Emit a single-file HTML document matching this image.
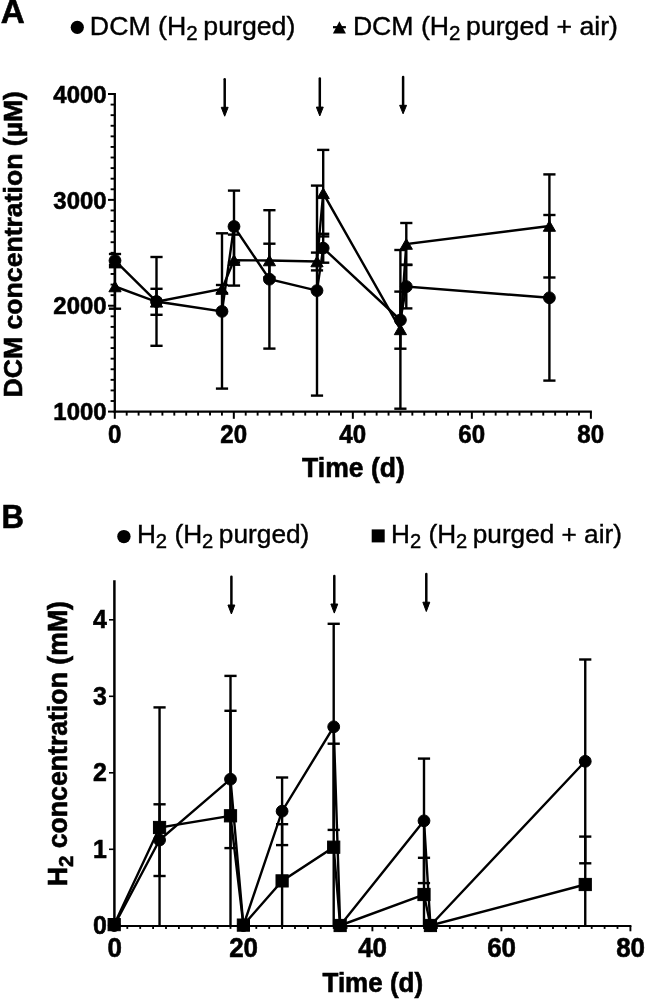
<!DOCTYPE html>
<html><head><meta charset="utf-8"><style>
html,body{margin:0;padding:0;background:#fff;}
body{width:645px;height:999px;overflow:hidden;}
svg{display:block;filter:grayscale(1);}
</style></head><body>
<svg width="645" height="999" viewBox="0 0 645 999">
<rect width="645" height="999" fill="#fff"/>
<g stroke="#000" fill="#000">
<line x1="114.80" y1="92.90" x2="114.80" y2="412.70" stroke-width="2.3" />
<line x1="113.70" y1="411.60" x2="591.88" y2="411.60" stroke-width="2.3" />
<line x1="108.00" y1="411.60" x2="114.80" y2="411.60" stroke-width="2.0" />
<line x1="110.60" y1="401.01" x2="114.80" y2="401.01" stroke-width="1.9" />
<line x1="110.60" y1="390.43" x2="114.80" y2="390.43" stroke-width="1.9" />
<line x1="110.60" y1="379.84" x2="114.80" y2="379.84" stroke-width="1.9" />
<line x1="110.60" y1="369.25" x2="114.80" y2="369.25" stroke-width="1.9" />
<line x1="110.60" y1="358.67" x2="114.80" y2="358.67" stroke-width="1.9" />
<line x1="110.60" y1="348.08" x2="114.80" y2="348.08" stroke-width="1.9" />
<line x1="110.60" y1="337.49" x2="114.80" y2="337.49" stroke-width="1.9" />
<line x1="110.60" y1="326.91" x2="114.80" y2="326.91" stroke-width="1.9" />
<line x1="110.60" y1="316.32" x2="114.80" y2="316.32" stroke-width="1.9" />
<line x1="108.00" y1="305.73" x2="114.80" y2="305.73" stroke-width="2.0" />
<line x1="110.60" y1="295.15" x2="114.80" y2="295.15" stroke-width="1.9" />
<line x1="110.60" y1="284.56" x2="114.80" y2="284.56" stroke-width="1.9" />
<line x1="110.60" y1="273.97" x2="114.80" y2="273.97" stroke-width="1.9" />
<line x1="110.60" y1="263.39" x2="114.80" y2="263.39" stroke-width="1.9" />
<line x1="110.60" y1="252.80" x2="114.80" y2="252.80" stroke-width="1.9" />
<line x1="110.60" y1="242.21" x2="114.80" y2="242.21" stroke-width="1.9" />
<line x1="110.60" y1="231.63" x2="114.80" y2="231.63" stroke-width="1.9" />
<line x1="110.60" y1="221.04" x2="114.80" y2="221.04" stroke-width="1.9" />
<line x1="110.60" y1="210.45" x2="114.80" y2="210.45" stroke-width="1.9" />
<line x1="108.00" y1="199.87" x2="114.80" y2="199.87" stroke-width="2.0" />
<line x1="110.60" y1="189.28" x2="114.80" y2="189.28" stroke-width="1.9" />
<line x1="110.60" y1="178.69" x2="114.80" y2="178.69" stroke-width="1.9" />
<line x1="110.60" y1="168.11" x2="114.80" y2="168.11" stroke-width="1.9" />
<line x1="110.60" y1="157.52" x2="114.80" y2="157.52" stroke-width="1.9" />
<line x1="110.60" y1="146.93" x2="114.80" y2="146.93" stroke-width="1.9" />
<line x1="110.60" y1="136.35" x2="114.80" y2="136.35" stroke-width="1.9" />
<line x1="110.60" y1="125.76" x2="114.80" y2="125.76" stroke-width="1.9" />
<line x1="110.60" y1="115.17" x2="114.80" y2="115.17" stroke-width="1.9" />
<line x1="110.60" y1="104.59" x2="114.80" y2="104.59" stroke-width="1.9" />
<line x1="108.00" y1="94.00" x2="114.80" y2="94.00" stroke-width="2.0" />
<line x1="114.80" y1="411.60" x2="114.80" y2="418.80" stroke-width="2.0" />
<line x1="126.70" y1="411.60" x2="126.70" y2="415.60" stroke-width="1.9" />
<line x1="138.60" y1="411.60" x2="138.60" y2="415.60" stroke-width="1.9" />
<line x1="150.51" y1="411.60" x2="150.51" y2="415.60" stroke-width="1.9" />
<line x1="162.41" y1="411.60" x2="162.41" y2="415.60" stroke-width="1.9" />
<line x1="174.31" y1="411.60" x2="174.31" y2="415.60" stroke-width="1.9" />
<line x1="186.21" y1="411.60" x2="186.21" y2="415.60" stroke-width="1.9" />
<line x1="198.11" y1="411.60" x2="198.11" y2="415.60" stroke-width="1.9" />
<line x1="210.02" y1="411.60" x2="210.02" y2="415.60" stroke-width="1.9" />
<line x1="221.92" y1="411.60" x2="221.92" y2="415.60" stroke-width="1.9" />
<line x1="233.82" y1="411.60" x2="233.82" y2="418.80" stroke-width="2.0" />
<line x1="245.72" y1="411.60" x2="245.72" y2="415.60" stroke-width="1.9" />
<line x1="257.62" y1="411.60" x2="257.62" y2="415.60" stroke-width="1.9" />
<line x1="269.53" y1="411.60" x2="269.53" y2="415.60" stroke-width="1.9" />
<line x1="281.43" y1="411.60" x2="281.43" y2="415.60" stroke-width="1.9" />
<line x1="293.33" y1="411.60" x2="293.33" y2="415.60" stroke-width="1.9" />
<line x1="305.23" y1="411.60" x2="305.23" y2="415.60" stroke-width="1.9" />
<line x1="317.13" y1="411.60" x2="317.13" y2="415.60" stroke-width="1.9" />
<line x1="329.04" y1="411.60" x2="329.04" y2="415.60" stroke-width="1.9" />
<line x1="340.94" y1="411.60" x2="340.94" y2="415.60" stroke-width="1.9" />
<line x1="352.84" y1="411.60" x2="352.84" y2="418.80" stroke-width="2.0" />
<line x1="364.74" y1="411.60" x2="364.74" y2="415.60" stroke-width="1.9" />
<line x1="376.64" y1="411.60" x2="376.64" y2="415.60" stroke-width="1.9" />
<line x1="388.55" y1="411.60" x2="388.55" y2="415.60" stroke-width="1.9" />
<line x1="400.45" y1="411.60" x2="400.45" y2="415.60" stroke-width="1.9" />
<line x1="412.35" y1="411.60" x2="412.35" y2="415.60" stroke-width="1.9" />
<line x1="424.25" y1="411.60" x2="424.25" y2="415.60" stroke-width="1.9" />
<line x1="436.15" y1="411.60" x2="436.15" y2="415.60" stroke-width="1.9" />
<line x1="448.06" y1="411.60" x2="448.06" y2="415.60" stroke-width="1.9" />
<line x1="459.96" y1="411.60" x2="459.96" y2="415.60" stroke-width="1.9" />
<line x1="471.86" y1="411.60" x2="471.86" y2="418.80" stroke-width="2.0" />
<line x1="483.76" y1="411.60" x2="483.76" y2="415.60" stroke-width="1.9" />
<line x1="495.66" y1="411.60" x2="495.66" y2="415.60" stroke-width="1.9" />
<line x1="507.57" y1="411.60" x2="507.57" y2="415.60" stroke-width="1.9" />
<line x1="519.47" y1="411.60" x2="519.47" y2="415.60" stroke-width="1.9" />
<line x1="531.37" y1="411.60" x2="531.37" y2="415.60" stroke-width="1.9" />
<line x1="543.27" y1="411.60" x2="543.27" y2="415.60" stroke-width="1.9" />
<line x1="555.17" y1="411.60" x2="555.17" y2="415.60" stroke-width="1.9" />
<line x1="567.08" y1="411.60" x2="567.08" y2="415.60" stroke-width="1.9" />
<line x1="578.98" y1="411.60" x2="578.98" y2="415.60" stroke-width="1.9" />
<line x1="590.88" y1="411.60" x2="590.88" y2="418.80" stroke-width="2.0" />
</g>
<g stroke="#000" fill="#000" stroke-linecap="butt">
<line x1="115.00" y1="254.00" x2="115.00" y2="267.20" stroke-width="2.4" />
<line x1="108.90" y1="254.00" x2="121.10" y2="254.00" stroke-width="2.4" />
<line x1="108.90" y1="267.20" x2="121.10" y2="267.20" stroke-width="2.4" />
<line x1="156.50" y1="257.00" x2="156.50" y2="345.80" stroke-width="2.4" />
<line x1="150.40" y1="257.00" x2="162.60" y2="257.00" stroke-width="2.4" />
<line x1="150.40" y1="345.80" x2="162.60" y2="345.80" stroke-width="2.4" />
<line x1="222.00" y1="233.30" x2="222.00" y2="388.60" stroke-width="2.4" />
<line x1="215.90" y1="233.30" x2="228.10" y2="233.30" stroke-width="2.4" />
<line x1="215.90" y1="388.60" x2="228.10" y2="388.60" stroke-width="2.4" />
<line x1="234.00" y1="190.60" x2="234.00" y2="262.40" stroke-width="2.4" />
<line x1="227.90" y1="190.60" x2="240.10" y2="190.60" stroke-width="2.4" />
<line x1="227.90" y1="262.40" x2="240.10" y2="262.40" stroke-width="2.4" />
<line x1="269.40" y1="210.20" x2="269.40" y2="348.60" stroke-width="2.4" />
<line x1="263.30" y1="210.20" x2="275.50" y2="210.20" stroke-width="2.4" />
<line x1="263.30" y1="348.60" x2="275.50" y2="348.60" stroke-width="2.4" />
<line x1="317.00" y1="185.60" x2="317.00" y2="395.60" stroke-width="2.4" />
<line x1="310.90" y1="185.60" x2="323.10" y2="185.60" stroke-width="2.4" />
<line x1="310.90" y1="395.60" x2="323.10" y2="395.60" stroke-width="2.4" />
<line x1="323.20" y1="233.80" x2="323.20" y2="262.70" stroke-width="2.4" />
<line x1="317.10" y1="233.80" x2="329.30" y2="233.80" stroke-width="2.4" />
<line x1="317.10" y1="262.70" x2="329.30" y2="262.70" stroke-width="2.4" />
<line x1="400.40" y1="291.60" x2="400.40" y2="348.70" stroke-width="2.4" />
<line x1="394.30" y1="291.60" x2="406.50" y2="291.60" stroke-width="2.4" />
<line x1="394.30" y1="348.70" x2="406.50" y2="348.70" stroke-width="2.4" />
<line x1="406.30" y1="264.70" x2="406.30" y2="308.40" stroke-width="2.4" />
<line x1="400.20" y1="264.70" x2="412.40" y2="264.70" stroke-width="2.4" />
<line x1="400.20" y1="308.40" x2="412.40" y2="308.40" stroke-width="2.4" />
<line x1="549.40" y1="215.00" x2="549.40" y2="380.60" stroke-width="2.4" />
<line x1="543.30" y1="215.00" x2="555.50" y2="215.00" stroke-width="2.4" />
<line x1="543.30" y1="380.60" x2="555.50" y2="380.60" stroke-width="2.4" />
<line x1="115.00" y1="265.00" x2="115.00" y2="308.70" stroke-width="2.4" />
<line x1="108.90" y1="265.00" x2="121.10" y2="265.00" stroke-width="2.4" />
<line x1="108.90" y1="308.70" x2="121.10" y2="308.70" stroke-width="2.4" />
<line x1="156.50" y1="288.80" x2="156.50" y2="314.80" stroke-width="2.4" />
<line x1="150.40" y1="288.80" x2="162.60" y2="288.80" stroke-width="2.4" />
<line x1="150.40" y1="314.80" x2="162.60" y2="314.80" stroke-width="2.4" />
<line x1="222.00" y1="285.00" x2="222.00" y2="293.00" stroke-width="2.4" />
<line x1="215.90" y1="285.00" x2="228.10" y2="285.00" stroke-width="2.4" />
<line x1="215.90" y1="293.00" x2="228.10" y2="293.00" stroke-width="2.4" />
<line x1="234.00" y1="234.60" x2="234.00" y2="285.60" stroke-width="2.4" />
<line x1="227.90" y1="234.60" x2="240.10" y2="234.60" stroke-width="2.4" />
<line x1="227.90" y1="285.60" x2="240.10" y2="285.60" stroke-width="2.4" />
<line x1="269.40" y1="243.70" x2="269.40" y2="277.30" stroke-width="2.4" />
<line x1="263.30" y1="243.70" x2="275.50" y2="243.70" stroke-width="2.4" />
<line x1="263.30" y1="277.30" x2="275.50" y2="277.30" stroke-width="2.4" />
<line x1="317.00" y1="252.60" x2="317.00" y2="270.40" stroke-width="2.4" />
<line x1="310.90" y1="252.60" x2="323.10" y2="252.60" stroke-width="2.4" />
<line x1="310.90" y1="270.40" x2="323.10" y2="270.40" stroke-width="2.4" />
<line x1="323.20" y1="149.90" x2="323.20" y2="236.40" stroke-width="2.4" />
<line x1="317.10" y1="149.90" x2="329.30" y2="149.90" stroke-width="2.4" />
<line x1="317.10" y1="236.40" x2="329.30" y2="236.40" stroke-width="2.4" />
<line x1="400.40" y1="250.00" x2="400.40" y2="408.70" stroke-width="2.4" />
<line x1="394.30" y1="250.00" x2="406.50" y2="250.00" stroke-width="2.4" />
<line x1="394.30" y1="408.70" x2="406.50" y2="408.70" stroke-width="2.4" />
<line x1="406.30" y1="223.00" x2="406.30" y2="265.00" stroke-width="2.4" />
<line x1="400.20" y1="223.00" x2="412.40" y2="223.00" stroke-width="2.4" />
<line x1="400.20" y1="265.00" x2="412.40" y2="265.00" stroke-width="2.4" />
<line x1="549.40" y1="174.40" x2="549.40" y2="277.50" stroke-width="2.4" />
<line x1="543.30" y1="174.40" x2="555.50" y2="174.40" stroke-width="2.4" />
<line x1="543.30" y1="277.50" x2="555.50" y2="277.50" stroke-width="2.4" />
<polyline points="115.00,260.60 156.50,301.50 222.00,311.40 234.00,226.50 269.40,279.20 317.00,290.60 323.20,248.10 400.40,320.00 406.30,286.60 549.40,297.80" fill="none" stroke-width="2.4" stroke-linejoin="miter"/>
<polyline points="115.00,286.50 156.50,301.80 222.00,289.00 234.00,260.10 269.40,260.50 317.00,261.50 323.20,193.30 400.40,329.40 406.30,244.00 549.40,226.00" fill="none" stroke-width="2.4" stroke-linejoin="miter"/>
<circle cx="115.00" cy="260.60" r="5.90"/>
<circle cx="156.50" cy="301.50" r="5.90"/>
<circle cx="222.00" cy="311.40" r="5.90"/>
<circle cx="234.00" cy="226.50" r="5.90"/>
<circle cx="269.40" cy="279.20" r="5.90"/>
<circle cx="317.00" cy="290.60" r="5.90"/>
<circle cx="323.20" cy="248.10" r="5.90"/>
<circle cx="400.40" cy="320.00" r="5.90"/>
<circle cx="406.30" cy="286.60" r="5.90"/>
<circle cx="549.40" cy="297.80" r="5.90"/>
<polygon points="115.00,281.22 121.10,291.78 108.90,291.78"/>
<polygon points="156.50,296.52 162.60,307.08 150.40,307.08"/>
<polygon points="222.00,283.72 228.10,294.28 215.90,294.28"/>
<polygon points="234.00,254.82 240.10,265.38 227.90,265.38"/>
<polygon points="269.40,255.22 275.50,265.78 263.30,265.78"/>
<polygon points="317.00,256.22 323.10,266.78 310.90,266.78"/>
<polygon points="323.20,188.02 329.30,198.58 317.10,198.58"/>
<polygon points="400.40,324.12 406.50,334.68 394.30,334.68"/>
<polygon points="406.30,238.72 412.40,249.28 400.20,249.28"/>
<polygon points="549.40,220.72 555.50,231.28 543.30,231.28"/>
<line x1="224.70" y1="79.30" x2="224.70" y2="108.30" stroke-width="2.5" stroke-linecap="round"/>
<polygon points="221.25,107.30 228.15,107.30 224.70,116.20"/>
<line x1="319.80" y1="78.60" x2="319.80" y2="108.10" stroke-width="2.5" stroke-linecap="round"/>
<polygon points="316.35,107.10 323.25,107.10 319.80,115.90"/>
<line x1="403.10" y1="77.10" x2="403.10" y2="106.30" stroke-width="2.5" stroke-linecap="round"/>
<polygon points="399.65,105.30 406.55,105.30 403.10,113.80"/>
</g>
<g stroke="#000" fill="#000">
<line x1="114.40" y1="580.30" x2="114.40" y2="927.00" stroke-width="2.5" />
<line x1="113.40" y1="926.00" x2="631.40" y2="926.00" stroke-width="2.0" />
<line x1="109.00" y1="925.80" x2="114.40" y2="925.80" stroke-width="1.6" />
<line x1="109.00" y1="849.30" x2="114.40" y2="849.30" stroke-width="1.6" />
<line x1="109.00" y1="772.80" x2="114.40" y2="772.80" stroke-width="1.6" />
<line x1="109.00" y1="696.30" x2="114.40" y2="696.30" stroke-width="1.6" />
<line x1="109.00" y1="619.80" x2="114.40" y2="619.80" stroke-width="1.6" />
<line x1="114.40" y1="926.00" x2="114.40" y2="931.30" stroke-width="1.9" />
<line x1="127.30" y1="926.00" x2="127.30" y2="928.90" stroke-width="1.8" />
<line x1="140.20" y1="926.00" x2="140.20" y2="928.90" stroke-width="1.8" />
<line x1="153.10" y1="926.00" x2="153.10" y2="928.90" stroke-width="1.8" />
<line x1="166.00" y1="926.00" x2="166.00" y2="928.90" stroke-width="1.8" />
<line x1="178.90" y1="926.00" x2="178.90" y2="928.90" stroke-width="1.8" />
<line x1="191.80" y1="926.00" x2="191.80" y2="928.90" stroke-width="1.8" />
<line x1="204.70" y1="926.00" x2="204.70" y2="928.90" stroke-width="1.8" />
<line x1="217.60" y1="926.00" x2="217.60" y2="928.90" stroke-width="1.8" />
<line x1="230.50" y1="926.00" x2="230.50" y2="928.90" stroke-width="1.8" />
<line x1="243.40" y1="926.00" x2="243.40" y2="931.30" stroke-width="1.9" />
<line x1="256.30" y1="926.00" x2="256.30" y2="928.90" stroke-width="1.8" />
<line x1="269.20" y1="926.00" x2="269.20" y2="928.90" stroke-width="1.8" />
<line x1="282.10" y1="926.00" x2="282.10" y2="928.90" stroke-width="1.8" />
<line x1="295.00" y1="926.00" x2="295.00" y2="928.90" stroke-width="1.8" />
<line x1="307.90" y1="926.00" x2="307.90" y2="928.90" stroke-width="1.8" />
<line x1="320.80" y1="926.00" x2="320.80" y2="928.90" stroke-width="1.8" />
<line x1="333.70" y1="926.00" x2="333.70" y2="928.90" stroke-width="1.8" />
<line x1="346.60" y1="926.00" x2="346.60" y2="928.90" stroke-width="1.8" />
<line x1="359.50" y1="926.00" x2="359.50" y2="928.90" stroke-width="1.8" />
<line x1="372.40" y1="926.00" x2="372.40" y2="931.30" stroke-width="1.9" />
<line x1="385.30" y1="926.00" x2="385.30" y2="928.90" stroke-width="1.8" />
<line x1="398.20" y1="926.00" x2="398.20" y2="928.90" stroke-width="1.8" />
<line x1="411.10" y1="926.00" x2="411.10" y2="928.90" stroke-width="1.8" />
<line x1="424.00" y1="926.00" x2="424.00" y2="928.90" stroke-width="1.8" />
<line x1="436.90" y1="926.00" x2="436.90" y2="928.90" stroke-width="1.8" />
<line x1="449.80" y1="926.00" x2="449.80" y2="928.90" stroke-width="1.8" />
<line x1="462.70" y1="926.00" x2="462.70" y2="928.90" stroke-width="1.8" />
<line x1="475.60" y1="926.00" x2="475.60" y2="928.90" stroke-width="1.8" />
<line x1="488.50" y1="926.00" x2="488.50" y2="928.90" stroke-width="1.8" />
<line x1="501.40" y1="926.00" x2="501.40" y2="931.30" stroke-width="1.9" />
<line x1="514.30" y1="926.00" x2="514.30" y2="928.90" stroke-width="1.8" />
<line x1="527.20" y1="926.00" x2="527.20" y2="928.90" stroke-width="1.8" />
<line x1="540.10" y1="926.00" x2="540.10" y2="928.90" stroke-width="1.8" />
<line x1="553.00" y1="926.00" x2="553.00" y2="928.90" stroke-width="1.8" />
<line x1="565.90" y1="926.00" x2="565.90" y2="928.90" stroke-width="1.8" />
<line x1="578.80" y1="926.00" x2="578.80" y2="928.90" stroke-width="1.8" />
<line x1="591.70" y1="926.00" x2="591.70" y2="928.90" stroke-width="1.8" />
<line x1="604.60" y1="926.00" x2="604.60" y2="928.90" stroke-width="1.8" />
<line x1="617.50" y1="926.00" x2="617.50" y2="928.90" stroke-width="1.8" />
<line x1="630.40" y1="926.00" x2="630.40" y2="931.30" stroke-width="1.9" />
</g>
<g stroke="#000" fill="#000">
<line x1="159.55" y1="804.30" x2="159.55" y2="876.00" stroke-width="2.4" />
<line x1="153.45" y1="804.30" x2="165.65" y2="804.30" stroke-width="2.4" />
<line x1="153.45" y1="876.00" x2="165.65" y2="876.00" stroke-width="2.4" />
<line x1="230.50" y1="710.80" x2="230.50" y2="848.10" stroke-width="2.4" />
<line x1="224.40" y1="710.80" x2="236.60" y2="710.80" stroke-width="2.4" />
<line x1="224.40" y1="848.10" x2="236.60" y2="848.10" stroke-width="2.4" />
<line x1="282.10" y1="777.50" x2="282.10" y2="845.10" stroke-width="2.4" />
<line x1="276.00" y1="777.50" x2="288.20" y2="777.50" stroke-width="2.4" />
<line x1="276.00" y1="845.10" x2="288.20" y2="845.10" stroke-width="2.4" />
<line x1="333.70" y1="623.80" x2="333.70" y2="829.90" stroke-width="2.4" />
<line x1="327.60" y1="623.80" x2="339.80" y2="623.80" stroke-width="2.4" />
<line x1="327.60" y1="829.90" x2="339.80" y2="829.90" stroke-width="2.4" />
<line x1="424.00" y1="758.60" x2="424.00" y2="883.10" stroke-width="2.4" />
<line x1="417.90" y1="758.60" x2="430.10" y2="758.60" stroke-width="2.4" />
<line x1="417.90" y1="883.10" x2="430.10" y2="883.10" stroke-width="2.4" />
<line x1="585.25" y1="659.50" x2="585.25" y2="863.30" stroke-width="2.4" />
<line x1="579.15" y1="659.50" x2="591.35" y2="659.50" stroke-width="2.4" />
<line x1="579.15" y1="863.30" x2="591.35" y2="863.30" stroke-width="2.4" />
<line x1="159.55" y1="707.40" x2="159.55" y2="926.00" stroke-width="2.4" />
<line x1="153.45" y1="707.40" x2="165.65" y2="707.40" stroke-width="2.4" />
<line x1="230.50" y1="675.90" x2="230.50" y2="926.00" stroke-width="2.4" />
<line x1="224.40" y1="675.90" x2="236.60" y2="675.90" stroke-width="2.4" />
<line x1="282.10" y1="824.20" x2="282.10" y2="926.00" stroke-width="2.4" />
<line x1="276.00" y1="824.20" x2="288.20" y2="824.20" stroke-width="2.4" />
<line x1="333.70" y1="743.70" x2="333.70" y2="926.00" stroke-width="2.4" />
<line x1="327.60" y1="743.70" x2="339.80" y2="743.70" stroke-width="2.4" />
<line x1="424.00" y1="857.80" x2="424.00" y2="926.00" stroke-width="2.4" />
<line x1="417.90" y1="857.80" x2="430.10" y2="857.80" stroke-width="2.4" />
<line x1="585.25" y1="836.60" x2="585.25" y2="926.00" stroke-width="2.4" />
<line x1="579.15" y1="836.60" x2="591.35" y2="836.60" stroke-width="2.4" />
<polyline points="114.20,925.50 159.55,840.00 230.50,779.20 243.40,925.50 282.10,811.20 333.70,726.80 340.15,925.50 424.00,820.80 430.45,925.50 585.25,761.30" fill="none" stroke-width="2.4" stroke-linejoin="miter"/>
<polyline points="114.20,924.60 159.55,827.50 230.50,815.80 243.40,925.10 282.10,880.90 333.70,847.20 340.15,925.50 424.00,894.50 430.45,925.50 585.25,884.50" fill="none" stroke-width="2.4" stroke-linejoin="miter"/>
<circle cx="114.20" cy="925.50" r="5.90"/>
<circle cx="159.55" cy="840.00" r="5.90"/>
<circle cx="230.50" cy="779.20" r="5.90"/>
<circle cx="243.40" cy="925.50" r="5.90"/>
<circle cx="282.10" cy="811.20" r="5.90"/>
<circle cx="333.70" cy="726.80" r="5.90"/>
<circle cx="340.15" cy="925.50" r="5.90"/>
<circle cx="424.00" cy="820.80" r="5.90"/>
<circle cx="430.45" cy="925.50" r="5.90"/>
<circle cx="585.25" cy="761.30" r="5.90"/>
<rect x="108.10" y="918.50" width="12.20" height="12.20"/>
<rect x="153.45" y="821.40" width="12.20" height="12.20"/>
<rect x="224.40" y="809.70" width="12.20" height="12.20"/>
<rect x="237.30" y="919.00" width="12.20" height="12.20"/>
<rect x="276.00" y="874.80" width="12.20" height="12.20"/>
<rect x="327.60" y="841.10" width="12.20" height="12.20"/>
<rect x="334.05" y="919.40" width="12.20" height="12.20"/>
<rect x="417.90" y="888.40" width="12.20" height="12.20"/>
<rect x="424.35" y="919.40" width="12.20" height="12.20"/>
<rect x="579.15" y="878.40" width="12.20" height="12.20"/>
<line x1="231.40" y1="576.70" x2="231.40" y2="606.00" stroke-width="2.5" stroke-linecap="round"/>
<polygon points="227.95,605.00 234.85,605.00 231.40,614.00"/>
<line x1="334.30" y1="576.10" x2="334.30" y2="605.00" stroke-width="2.5" stroke-linecap="round"/>
<polygon points="330.85,604.00 337.75,604.00 334.30,613.10"/>
<line x1="426.30" y1="574.00" x2="426.30" y2="603.20" stroke-width="2.5" stroke-linecap="round"/>
<polygon points="422.85,602.20 429.75,602.20 426.30,611.50"/>
</g>
<g fill="#000" stroke="#000">
<circle cx="77.3" cy="27.3" r="6.6" stroke="none"/>
<polygon points="339.4,21.2 345.9,33.6 332.9,33.6" stroke="none"/>
<line x1="333" y1="27.2" x2="345.9" y2="27.2" stroke-width="2.2"/>
<circle cx="123.9" cy="536.6" r="6.7" stroke="none"/>
<rect x="371.7" y="529.4" width="13" height="13" stroke="none"/>
</g>
<g fill="#000" font-family='"Liberation Sans", sans-serif'>
<text id="A" class="tx" transform="translate(0.68,23.24) scale(0.9972,1)" font-size="33.27" font-weight="bold" text-anchor="start" stroke="#000" stroke-width="0.6">A</text>
<text id="B" class="tx" transform="translate(1.56,528.43) scale(0.9323,1)" font-size="33.33" font-weight="bold" text-anchor="start" stroke="#000" stroke-width="0.6">B</text>
<text id="legAL" class="tx" transform="translate(89.87,34.66) scale(1.0181,1)" font-size="26.25" font-weight="normal" text-anchor="start" stroke="#000" stroke-width="0.4">DCM (H<tspan font-size="20.21" dy="5.51">2</tspan><tspan dy="-5.51" dx="-1.80"> purged)</tspan></text>
<text id="legAR" class="tx" transform="translate(352.88,34.66) scale(1.0161,1)" font-size="26.24" font-weight="normal" text-anchor="start" stroke="#000" stroke-width="0.4">DCM (H<tspan font-size="20.20" dy="5.51">2</tspan><tspan dy="-5.51" dx="-1.80"> purged + air)</tspan></text>
<text id="legBL" class="tx" transform="translate(136.88,542.85) scale(1.0053,1)" font-size="26.14" font-weight="normal" text-anchor="start" stroke="#000" stroke-width="0.4">H<tspan font-size="20.13" dy="5.49">2</tspan><tspan dy="-5.49"> (H</tspan><tspan font-size="20.13" dy="5.49">2</tspan><tspan dy="-5.49" dx="-1.80"> purged)</tspan></text>
<text id="legBR" class="tx" transform="translate(391.10,542.86) scale(1.0038,1)" font-size="26.10" font-weight="normal" text-anchor="start" stroke="#000" stroke-width="0.4">H<tspan font-size="20.10" dy="5.48">2</tspan><tspan dy="-5.48"> (H</tspan><tspan font-size="20.10" dy="5.48">2</tspan><tspan dy="-5.48" dx="-1.80"> purged + air)</tspan></text>
<text id="ytA1000" class="tx" transform="translate(106.56,420.25) scale(0.9684,1)" font-size="24.70" font-weight="bold" text-anchor="end" stroke="#000" stroke-width="0.6">1000</text>
<text id="ytA2000" class="tx" transform="translate(106.56,314.39) scale(0.9684,1)" font-size="24.70" font-weight="bold" text-anchor="end" stroke="#000" stroke-width="0.6">2000</text>
<text id="ytA" class="tx" transform="translate(106.56,208.52) scale(0.9684,1)" font-size="24.70" font-weight="bold" text-anchor="end" stroke="#000" stroke-width="0.6">3000</text>
<text id="ytA4000" class="tx" transform="translate(106.56,102.65) scale(0.9684,1)" font-size="24.70" font-weight="bold" text-anchor="end" stroke="#000" stroke-width="0.6">4000</text>
<text id="xtA0" class="tx" transform="translate(114.68,443.40) scale(0.9682,1)" font-size="24.87" font-weight="bold" text-anchor="middle" stroke="#000" stroke-width="0.6">0</text>
<text id="xtA" class="tx" transform="translate(233.70,443.40) scale(0.9682,1)" font-size="24.87" font-weight="bold" text-anchor="middle" stroke="#000" stroke-width="0.6">20</text>
<text id="xtA40" class="tx" transform="translate(352.72,443.40) scale(0.9682,1)" font-size="24.87" font-weight="bold" text-anchor="middle" stroke="#000" stroke-width="0.6">40</text>
<text id="xtA60" class="tx" transform="translate(471.74,443.40) scale(0.9682,1)" font-size="24.87" font-weight="bold" text-anchor="middle" stroke="#000" stroke-width="0.6">60</text>
<text id="xtA80" class="tx" transform="translate(590.76,443.40) scale(0.9682,1)" font-size="24.87" font-weight="bold" text-anchor="middle" stroke="#000" stroke-width="0.6">80</text>
<text id="timeA" class="tx" transform="translate(353.46,476.50) scale(0.9941,1)" font-size="26.71" font-weight="bold" text-anchor="middle" stroke="#000" stroke-width="0.6">Time (d)</text>
<text id="ylabA" class="tx" transform="translate(22.46,244.20) rotate(-90) scale(1.0205,1)" font-size="26.07" font-weight="bold" text-anchor="middle" stroke="#000" stroke-width="0.6">DCM concentration (µM)</text>
<text id="ytB0" class="tx" transform="translate(106.96,934.22) scale(0.9329,1)" font-size="26.71" font-weight="bold" text-anchor="end" stroke="#000" stroke-width="0.6">0</text>
<text id="ytB1" class="tx" transform="translate(106.96,857.72) scale(0.9329,1)" font-size="26.71" font-weight="bold" text-anchor="end" stroke="#000" stroke-width="0.6">1</text>
<text id="ytB2" class="tx" transform="translate(106.96,781.22) scale(0.9329,1)" font-size="26.71" font-weight="bold" text-anchor="end" stroke="#000" stroke-width="0.6">2</text>
<text id="ytB3" class="tx" transform="translate(106.96,704.72) scale(0.9329,1)" font-size="26.71" font-weight="bold" text-anchor="end" stroke="#000" stroke-width="0.6">3</text>
<text id="ytB" class="tx" transform="translate(106.96,628.22) scale(0.9329,1)" font-size="26.71" font-weight="bold" text-anchor="end" stroke="#000" stroke-width="0.6">4</text>
<text id="xtB0" class="tx" transform="translate(114.62,956.92) scale(0.9704,1)" font-size="26.74" font-weight="bold" text-anchor="middle" stroke="#000" stroke-width="0.6">0</text>
<text id="xtB20" class="tx" transform="translate(243.62,956.92) scale(0.9704,1)" font-size="26.74" font-weight="bold" text-anchor="middle" stroke="#000" stroke-width="0.6">20</text>
<text id="xtB40" class="tx" transform="translate(372.62,956.92) scale(0.9704,1)" font-size="26.74" font-weight="bold" text-anchor="middle" stroke="#000" stroke-width="0.6">40</text>
<text id="xtB" class="tx" transform="translate(501.62,956.92) scale(0.9704,1)" font-size="26.74" font-weight="bold" text-anchor="middle" stroke="#000" stroke-width="0.6">60</text>
<text id="xtB80" class="tx" transform="translate(630.62,956.92) scale(0.9704,1)" font-size="26.74" font-weight="bold" text-anchor="middle" stroke="#000" stroke-width="0.6">80</text>
<text id="timeB" class="tx" transform="translate(372.77,992.32) scale(0.9730,1)" font-size="26.71" font-weight="bold" text-anchor="middle" stroke="#000" stroke-width="0.6">Time (d)</text>
<text id="ylabB" class="tx" transform="translate(67.13,743.68) rotate(-90) scale(0.9922,1)" font-size="26.86" font-weight="bold" text-anchor="middle" stroke="#000" stroke-width="0.6">H<tspan font-size="20.68" dy="5.64">2</tspan><tspan dy="-5.64"> concentration (mM)</tspan></text>
</g>
</svg>
</body></html>
